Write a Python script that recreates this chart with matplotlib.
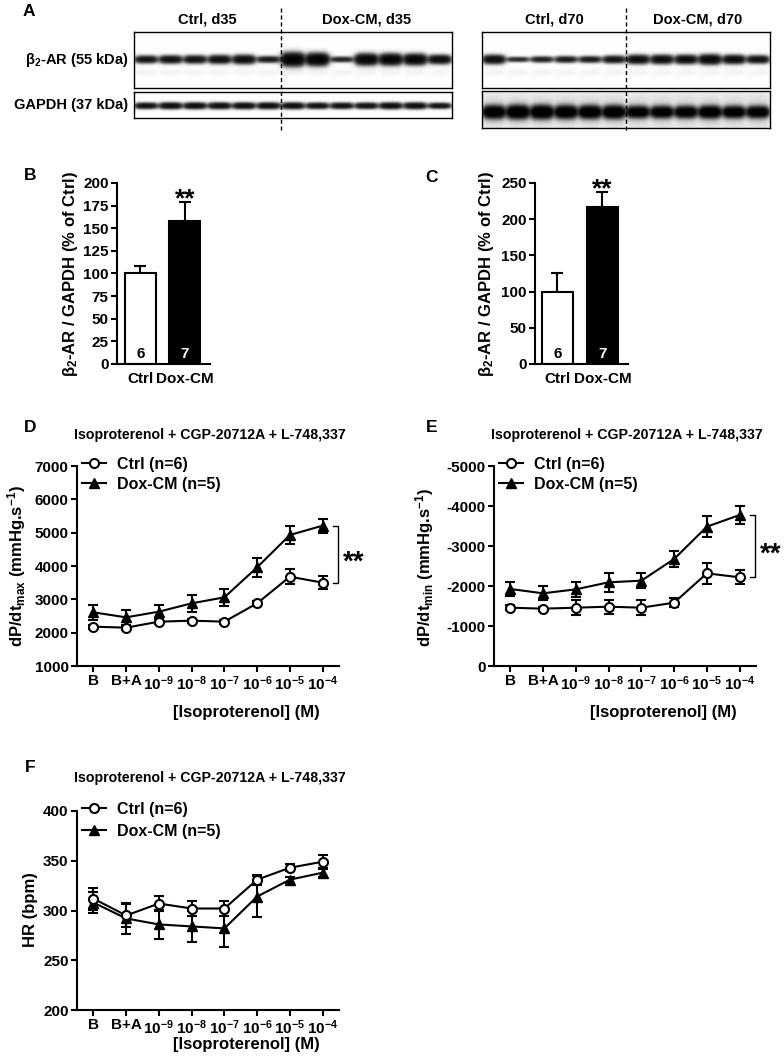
import numpy as np
import matplotlib.pyplot as plt
from matplotlib.lines import Line2D

plt.rcParams['font.family'] = ['Liberation Sans', 'DejaVu Sans']
plt.rcParams['font.weight'] = 'bold'
plt.rcParams['mathtext.fontset'] = 'custom'
plt.rcParams['mathtext.rm'] = 'Liberation Sans:bold'
plt.rcParams['mathtext.it'] = 'Liberation Sans:bold'
plt.rcParams['mathtext.bf'] = 'Liberation Sans:bold'
plt.rcParams['mathtext.default'] = 'rm'
plt.rcParams['axes.unicode_minus'] = False
plt.rcParams['axes.linewidth'] = 1.5

# ---- panel A: relative band intensities
d35_ctrl_b2 = [0.85, 0.9, 0.9, 0.95, 1.0, 0.75]
d35_dox_b2 = [1.45, 1.35, 0.65, 1.25, 1.25, 1.2, 1.0]
d35_ctrl_gapdh = [0.9, 0.95, 0.95, 0.95, 0.95, 0.95]
d35_dox_gapdh = [0.95, 0.9, 0.9, 0.9, 0.95, 0.95, 0.85]
d70_ctrl_b2 = [1.0, 0.6, 0.7, 0.75, 0.75, 0.85]
d70_dox_b2 = [1.0, 1.0, 1.0, 1.1, 1.0, 0.9]
d70_ctrl_gapdh = [1.2, 1.25, 1.25, 1.2, 1.2, 1.2]
d70_dox_gapdh = [1.1, 1.1, 1.1, 1.15, 1.1, 1.1]

# ---- panels B, C: densitometry
groups = ['Ctrl', 'Dox-CM']
n_animals = [6, 7]
b_mean = [100, 158]
b_sem = [8, 21]
c_mean = [100, 217]
c_sem = [25, 21]

# ---- panels D, E, F: isoproterenol dose response
doses = ['B', 'B+A', '10$^{-9}$', '10$^{-8}$', '10$^{-7}$', '10$^{-6}$', '10$^{-5}$', '10$^{-4}$']
dpmax_ctrl = [2180, 2150, 2330, 2360, 2330, 2880, 3680, 3500]
dpmax_ctrl_sem = [60, 60, 70, 60, 60, 70, 230, 200]
dpmax_dox = [2610, 2460, 2630, 2880, 3060, 3960, 4930, 5210]
dpmax_dox_sem = [215, 215, 215, 250, 260, 275, 260, 215]
dpmin_ctrl = [-1458, -1433, -1458, -1483, -1458, -1583, -2317, -2217]
dpmin_ctrl_sem = [60, 50, 190, 175, 190, 115, 270, 175]
dpmin_dox = [-1925, -1817, -1917, -2092, -2133, -2675, -3483, -3775]
dpmin_dox_sem = [180, 175, 190, 240, 195, 190, 265, 215]
hr_ctrl = [312, 295, 307, 302, 302, 331, 343, 349]
hr_ctrl_sem = [11, 12, 7.5, 7.5, 8, 5, 3.5, 6.5]
hr_dox = [308, 292, 286, 284, 282, 314, 331, 338]
hr_dox_sem = [11, 16, 15, 16, 19, 21, 3, 4]

W, H = 784, 1060
fig = plt.figure(figsize=(W / 100, H / 100), dpi=100)


def box(l, t, r, b):
    return [l / W, 1 - b / H, (r - l) / W, (b - t) / H]


def draw_blot(ax, ctrl, dox, band_y, thick, bg, halo=0.0, ghost=0.0):
    vals = np.array(list(ctrl) + list(dox), dtype=float)
    pos = ax.get_position()
    w = int(round(pos.width * W))
    h = int(round(pos.height * H))
    xx = np.arange(w) + 0.5
    yy = np.arange(h) + 0.5
    lane = w / len(vals)
    img = np.zeros((h, w))
    for i, v in enumerate(vals):
        cx = (i + 0.5) * lane
        px = 1 / (1 + np.exp((np.abs(xx - cx) - 0.40 * lane) / 1.8))
        py = np.exp(-0.5 * ((yy - band_y * h) / (thick * v)) ** 2)
        img += v * np.outer(py, px)
        if halo:
            img += halo * np.outer(np.exp(-0.5 * ((yy - band_y * h) / (thick * 3)) ** 2), px)
        if ghost:
            img += ghost * np.outer(np.exp(-0.5 * ((yy - band_y * h - 13) / 2.5) ** 2), px)
    dark = np.clip(1 - np.exp(-3.0 * img) + bg, 0, 1)
    ax.imshow(1 - dark, cmap='gray', vmin=0, vmax=1, aspect='auto', interpolation='bilinear')
    ax.set_xticks([])
    ax.set_yticks([])
    for s in ax.spines.values():
        s.set_linewidth(1.0)


def blot_block(l, r, tops, ctrl_b2, dox_b2, ctrl_g, dox_g, titles, gapdh_style):
    ax1 = fig.add_axes(box(l, tops[0], r, tops[1]))
    draw_blot(ax1, ctrl_b2, dox_b2, 0.49, 2.7, 0.005, ghost=0.015)
    ax2 = fig.add_axes(box(l, tops[2], r, tops[3]))
    draw_blot(ax2, ctrl_g, dox_g, *gapdh_style)
    n_c, n_d = len(ctrl_b2), len(dox_b2)
    n = n_c + n_d
    ax1.annotate(titles[0], xy=(n_c / 2 / n, 1), xycoords='axes fraction', xytext=(0, 12),
                 textcoords='offset pixels', ha='center', va='center', fontsize=10.5)
    ax1.annotate(titles[1], xy=((n_c + n_d / 2) / n, 1), xycoords='axes fraction', xytext=(0, 12),
                 textcoords='offset pixels', ha='center', va='center', fontsize=10.5)
    xs = (l + (r - l) * n_c / n) / W
    fig.add_artist(Line2D([xs, xs], [1 - 8 / H, 1 - 130 / H], transform=fig.transFigure,
                          color='k', lw=1.0, ls=(0, (3, 2))))


fig.text(29 / W, 1 - 11 / H, 'A', fontsize=12.5, ha='center', va='center')
blot_block(134, 452, [32, 88, 92, 118], d35_ctrl_b2, d35_dox_b2, d35_ctrl_gapdh, d35_dox_gapdh,
           ['Ctrl, d35', 'Dox-CM, d35'], (0.53, 2.1, 0.005))
blot_block(482, 770, [32, 88, 91, 128], d70_ctrl_b2, d70_dox_b2, d70_ctrl_gapdh, d70_dox_gapdh,
           ['Ctrl, d70', 'Dox-CM, d70'], (0.58, 3.0, 0.07, 0.06))
fig.text(128 / W, 1 - 60 / H, r'β$_2$-AR (55 kDa)', fontsize=10.5, ha='right', va='center')
fig.text(128 / W, 1 - 105 / H, 'GAPDH (37 kDa)', fontsize=10.5, ha='right', va='center')


def bar_panel(rect, mean, sem, ymax, step, xl, letter, letter_xy, ylab_xy):
    ax = fig.add_axes(rect)
    x = np.arange(len(groups))
    ax.bar(x, mean, width=0.7, color=['white', 'black'], edgecolor='black', linewidth=1.5, zorder=2)
    ax.errorbar(x, mean, yerr=[np.zeros(len(sem)), sem], fmt='none', ecolor='black',
                elinewidth=1.5, capsize=4.5, capthick=1.5, zorder=1)
    for i, n in enumerate(n_animals):
        ax.annotate(str(n), xy=(i, 0), xytext=(0, 6), textcoords='offset pixels', ha='center',
                    va='baseline', fontsize=11, color='black' if i == 0 else 'white', zorder=3)
    ax.annotate('**', xy=(1, mean[1] + sem[1]), xytext=(0, -4.5), textcoords='offset pixels',
                ha='center', va='baseline', fontsize=19, annotation_clip=False)
    ax.set_xlim(*xl)
    ax.set_ylim(0, ymax)
    ax.set_yticks(np.arange(0, ymax + 1, step))
    ax.set_xticks(x)
    ax.set_xticklabels(groups, fontsize=11)
    ax.tick_params(axis='x', length=0, pad=6)
    ax.tick_params(axis='y', direction='out', length=4.5, width=1.5, labelsize=11, pad=1.5)
    ax.spines['top'].set_visible(False)
    ax.spines['right'].set_visible(False)
    fig.text(letter_xy[0] / W, 1 - letter_xy[1] / H, letter, fontsize=12.5, ha='center', va='center')
    fig.text(ylab_xy[0] / W, 1 - ylab_xy[1] / H, r'β$_2$-AR / GAPDH (% of Ctrl)', fontsize=12,
             rotation=90, ha='center', va='center')
    return ax


bar_panel(box(117, 183, 210, 364), b_mean, b_sem, 200, 25, (-0.53, 1.57), 'B', (30, 176), (70, 274))
bar_panel(box(535, 183, 628, 364), c_mean, c_sem, 250, 50, (-0.5, 1.57), 'C', (432, 177), (486, 274))


def dose_panel(rect, ctrl, ctrl_sem, dox, dox_sem, ylim, yticks, ylab, letter, px, bracket, leg_y, leg_sp):
    l, t, r, b = rect
    ax = fig.add_axes(box(l, t, r, b))
    x = np.arange(len(doses))
    ax.errorbar(x, dox, yerr=dox_sem, fmt='none', ecolor='black', elinewidth=1.5,
                capsize=3.5, capthick=1.5, zorder=2)
    ax.errorbar(x, ctrl, yerr=ctrl_sem, fmt='none', ecolor='black', elinewidth=1.5,
                capsize=3.5, capthick=1.5, zorder=2)
    ax.plot(x, dox, color='black', lw=1.5, marker='^', ms=7, mfc='black', mec='black',
            label='Dox-CM (n=5)', zorder=3)
    ax.plot(x, ctrl, color='black', lw=1.5, marker='o', ms=6.5, mfc='white', mec='black',
            mew=1.5, label='Ctrl (n=6)', zorder=4)
    ax.set_xlim(-0.5, 7.5)
    ax.set_ylim(*ylim)
    ax.set_yticks(yticks)
    ax.set_yticklabels([str(v) for v in yticks])
    ax.set_xticks(x)
    ax.set_xticklabels(doses)
    ax.tick_params(direction='out', length=4.5, width=1.5, labelsize=11, pad=1.5)
    ax.spines['top'].set_visible(False)
    ax.spines['right'].set_visible(False)
    hs, ls = ax.get_legend_handles_labels()
    ax.legend(hs[::-1], ls[::-1], loc='upper left', frameon=False, fontsize=11.5,
              handlelength=1.5, handletextpad=0.7, labelspacing=leg_sp, borderpad=0, borderaxespad=0,
              bbox_to_anchor=((l + 5) / W, 1 - leg_y / H), bbox_transform=fig.transFigure)
    if bracket:
        xb = len(doses) - 1 + 0.48
        ax.plot([xb - 0.16, xb, xb, xb - 0.16], [dox[-1], dox[-1], ctrl[-1], ctrl[-1]],
                color='black', lw=1.0, clip_on=False)
        ax.annotate('**', xy=(xb, (dox[-1] + ctrl[-1]) / 2), xytext=(5, -15),
                    textcoords='offset pixels', ha='left', va='baseline', fontsize=20,
                    annotation_clip=False)
    cx = l + 133
    fig.text(cx / W, 1 - px['title'] / H, 'Isoproterenol + CGP-20712A + L-748,337', fontsize=10.2,
             ha='center', va='center')
    fig.text(px['letter'][0] / W, 1 - px['letter'][1] / H, letter, fontsize=12.5, ha='center', va='center')
    fig.text(px['ylab'][0] / W, 1 - px['ylab'][1] / H, ylab, fontsize=12, rotation=90,
             ha='center', va='center')
    fig.text((l + 169) / W, 1 - px['xlab'] / H, '[Isoproterenol] (M)', fontsize=12,
             ha='center', va='center')
    return ax


dose_panel((77, 466, 339, 666), dpmax_ctrl, dpmax_ctrl_sem, dpmax_dox, dpmax_dox_sem,
           (1000, 7000), list(range(1000, 7001, 1000)),
           r'dP/dt$_{max}$ (mmHg.s$^{-1}$)', 'D',
           {'title': 435, 'letter': (30, 427), 'ylab': (17, 566), 'xlab': 712}, True, 457, 0.3)
dose_panel((494, 466, 756, 666), dpmin_ctrl, dpmin_ctrl_sem, dpmin_dox, dpmin_dox_sem,
           (0, -5000), list(range(0, -5001, -1000)),
           r'dP/dt$_{min}$ (mmHg.s$^{-1}$)', 'E',
           {'title': 435, 'letter': (432, 427), 'ylab': (425, 567), 'xlab': 712}, True, 457, 0.3)
dose_panel((77, 811, 339, 1010), hr_ctrl, hr_ctrl_sem, hr_dox, hr_dox_sem,
           (200, 400), list(range(200, 401, 50)),
           'HR (bpm)', 'F',
           {'title': 778, 'letter': (30, 768), 'ylab': (30, 910), 'xlab': 1045}, False, 802, 0.42)

fig.savefig('out.png', dpi=100)
